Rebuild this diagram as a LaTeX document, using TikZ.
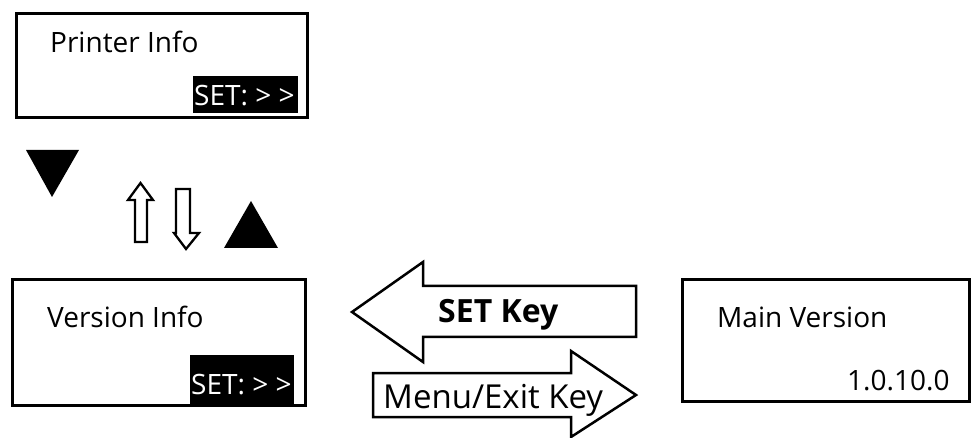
\documentclass[tikz,border=0pt]{standalone}
\usepackage{fontspec}
\setmainfont{Open Sans}
\begin{document}
\begin{tikzpicture}[x=1pt,y=-1pt,
  box/.style={draw=black,line width=3pt,anchor=north west,inner sep=0pt},
  lbl/.style={anchor=base west,inner sep=0pt,font=\fontsize{28}{30}\selectfont},
  setbg/.style={fill=black,anchor=north west,inner sep=0pt},
  settxt/.style={anchor=base west,inner sep=0pt,text=white,font=\fontsize{28}{30}\selectfont},
  blk/.style={draw=black,line width=2.5pt,line join=miter,fill=white},
  tri/.style={fill=black}]
\useasboundingbox (0,0) rectangle (972,438);
% boxes
\node[box,minimum width=291pt,minimum height=104pt] (printer) at (15,12) {};
\node[setbg,minimum width=105pt,minimum height=37pt] (pset) at (193,76) {};
\node[settxt] (psett) at (194,106) {SET: > >};
\node[lbl] (ptext) at (50,53) {Printer Info};

\node[box,minimum width=293pt,minimum height=126pt] (version) at (11,278) {};
\node[setbg,minimum width=104pt,minimum height=49pt] (vset) at (190,355) {};
\node[settxt] (vsett) at (191,394) {SET: > >};
\node[lbl] (vtext) at (47,327) {Version Info};

\node[box,minimum width=287pt,minimum height=122pt] (main) at (681,278) {};
\node[lbl] (mtext) at (717,327) {Main Version};
\node[lbl] (mnum) at (847,390) {1.0.10.0};

% triangles
\fill[tri] (26,150) -- (79,150) -- (52,197) -- cycle;
\fill[tri] (224,248) -- (278,248) -- (251,201) -- cycle;

% small hollow arrows
\draw[blk,line width=2.3pt] (135,242) -- (135,200) -- (128,200) -- (140.5,183) -- (153,200) -- (147,200) -- (147,242) -- cycle;
\draw[blk,line width=2.3pt] (176,189) -- (176,233) -- (174,233) -- (186,249) -- (199,233) -- (190,233) -- (190,189) -- cycle;

% block arrows
\draw[blk] (352,312) -- (423,262) -- (423,286) -- (636,286) -- (636,337) -- (423,337) -- (423,362) -- cycle;
\node[anchor=base west,inner sep=0pt,font=\fontsize{32}{34}\selectfont\bfseries] (setkey) at (438,323) {SET Key};

\draw[blk] (373,373) -- (571,373) -- (571,351) -- (636,395) -- (571,437) -- (571,417) -- (373,417) -- cycle;
\node[anchor=base west,inner sep=0pt,font=\fontsize{33}{35}\selectfont] (menukey) at (383,408) {Menu/Exit Key};
\end{tikzpicture}
\end{document}
